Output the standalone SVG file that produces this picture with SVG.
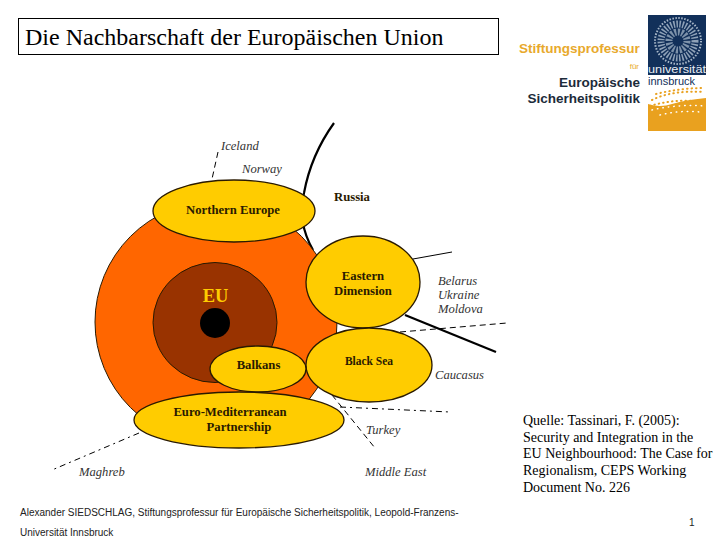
<svg xmlns="http://www.w3.org/2000/svg" width="720" height="540" viewBox="0 0 720 540">
<style>
.n{fill:#ffcc00;stroke:#2a1a00;stroke-width:1.300}
.b{font:bold 12.700px "Liberation Serif",serif;fill:#2a1a00;text-anchor:middle}
.i{font:italic 12.600px "Liberation Serif",serif;fill:#333}
.s{font:14px "Liberation Serif",serif;fill:#000}
.f{font:10px "Liberation Sans",sans-serif;fill:#222}
.l{font:bold 13.500px "Liberation Sans",sans-serif;fill:#1c2b3a}
.c{fill:none;stroke:#000}
.d{stroke-dasharray:6 4}
.e{stroke-dasharray:6 4 2 4}
.u{fill:none;stroke-linecap:round}
</style>
<rect width="720" height="540" fill="#fff"/>
<g id="title"><rect x="18.500" y="18.500" width="480" height="36" fill="#fff" stroke="#000"/>
<text x="25" y="45" font-family="Liberation Serif,serif" font-size="24">Die Nachbarschaft der Europäischen Union</text></g>
<g id="logo">
<text x="519" y="53" style="font:bold 13.500px 'Liberation Sans',sans-serif;fill:#e8a92c">Stiftungsprofessur</text>
<text x="639" y="69" text-anchor="end" style="font:8px 'Liberation Sans',sans-serif;fill:#e8a92c">für</text>
<text x="640" y="87" text-anchor="end" class="l">Europäische</text>
<text x="640" y="103" text-anchor="end" class="l">Sicherheitspolitik</text>
<rect x="648" y="15" width="58" height="60" fill="#12305a"/>
<path d="M648 131V104Q660 108 672 104T706 98V131Z" fill="#e9a11f"/>
<path class="u" stroke="#e9a11f" stroke-width="2" stroke-dasharray="0.500 4" d="M652 100Q672 90 704 92M656 94Q680 88 704 88M650 106Q676 98 704 102"/>
<path class="u" stroke="#fff" stroke-width="1.500" stroke-dasharray="0.500 5" d="M652 110Q678 104 704 106M660 115Q680 110 700 112"/>
<circle cx="678" cy="41" r="23" fill="none" stroke="#a8b7c8" stroke-width="2" stroke-dasharray="1.500 1.500"/>
<circle cx="678" cy="41" r="17" fill="none" stroke="#8fa2b8" stroke-width="7" stroke-dasharray="1.500 1.500"/>
<circle cx="678" cy="41" r="9" fill="none" stroke="#7d92aa" stroke-width="7" stroke-dasharray="2 1.500"/>
<text x="648" y="72.500" textLength="58" lengthAdjust="spacingAndGlyphs" style="font:11px 'Liberation Sans',sans-serif;fill:#e8edf3">universität</text>
<text x="648" y="85" style="font:11px 'Liberation Sans',sans-serif;fill:#12305a">innsbruck</text>
</g>
<g id="connectors">
<path class="c" stroke-width="2.200" d="M334 123Q311 155 304 193Q297 222 313 250"/>
<path class="c" stroke-width="2.200" d="M405 315L496 352"/>
<path class="c" d="M413 259L452 252"/>
<path class="c d" d="M400 332L507 323"/>
<path class="c d" d="M218 152L212 179"/>
<path class="c e" d="M139 433L52 470"/>
<path class="c d" d="M332 395L375 448"/>
<path class="c e" d="M340 407L450 412"/>
</g>
<g id="neighbourhood"><circle cx="216" cy="322" r="121" fill="#ff6600" stroke="#2a1a00"/></g>
<g id="eu"><ellipse cx="215" cy="322.500" rx="62" ry="60" fill="#993300" stroke="#2a1a00"/>
<circle cx="215" cy="323" r="15" fill="#000"/>
<text x="215.500" y="302" text-anchor="middle" style="font:bold 18.500px 'Liberation Serif',serif;fill:#ffcc00">EU</text></g>
<g id="northern-europe"><ellipse class="n" cx="234" cy="211" rx="81" ry="31"/><text class="b" x="233" y="214">Northern Europe</text></g>
<g id="eastern-dimension"><ellipse class="n" cx="363" cy="282" rx="57" ry="46"/><text class="b" x="363" y="280">Eastern</text><text class="b" x="363" y="295">Dimension</text></g>
<g id="black-sea"><ellipse class="n" cx="369" cy="365" rx="63" ry="37"/><text class="b" x="369" y="365" style="font-size:11.500px">Black Sea</text></g>
<g id="balkans"><ellipse class="n" cx="258" cy="369" rx="48" ry="23"/><text class="b" x="258.500" y="369">Balkans</text></g>
<g id="euro-med"><ellipse class="n" cx="239" cy="420" rx="105" ry="28"/><text class="b" x="230" y="416">Euro-Mediterranean</text><text class="b" x="239" y="431">Partnership</text></g>
<g id="labels">
<text class="i" x="221" y="150">Iceland</text>
<text class="i" x="242" y="173">Norway</text>
<text x="334" y="201" style="font:bold 12.700px 'Liberation Serif',serif;fill:#2a1a00">Russia</text>
<text class="i" x="438" y="285">Belarus</text>
<text class="i" x="438" y="299">Ukraine</text>
<text class="i" x="438" y="313">Moldova</text>
<text class="i" x="435" y="379">Caucasus</text>
<text class="i" x="366" y="434">Turkey</text>
<text class="i" x="365" y="476">Middle East</text>
<text class="i" x="79" y="476">Maghreb</text>
</g>
<g id="source">
<text class="s" x="523" y="425">Quelle: Tassinari, F. (2005):</text>
<text class="s" x="523" y="442">Security and Integration in the</text>
<text class="s" x="523" y="458">EU Neighbourhood: The Case for</text>
<text class="s" x="523" y="475">Regionalism, CEPS Working</text>
<text class="s" x="523" y="492">Document No. 226</text>
</g>
<g id="footer">
<text class="f" x="20" y="516">Alexander SIEDSCHLAG, Stiftungsprofessur für Europäische Sicherheitspolitik, Leopold-Franzens-</text>
<text class="f" x="20" y="536">Universität Innsbruck</text>
<text class="f" x="689" y="526">1</text>
</g>
</svg>
